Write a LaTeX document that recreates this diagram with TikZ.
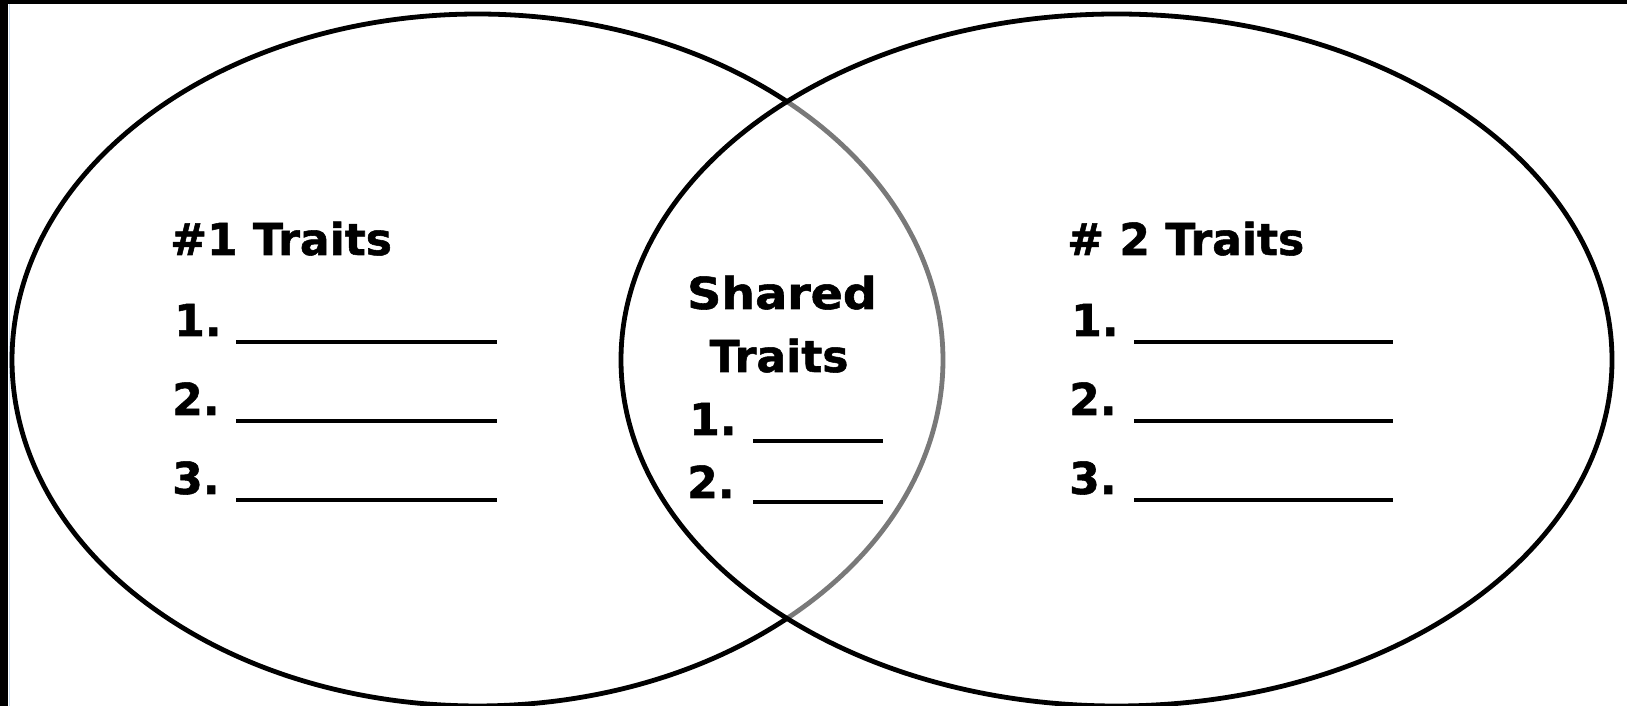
\documentclass[tikz,border=0pt]{standalone}
\usepackage{fontspec}
\setmainfont{DejaVu Sans}[BoldFeatures={FakeBold=1.2}]
\usetikzlibrary{calc}
\begin{document}
\begin{tikzpicture}[x=1pt,y=1pt,
  ring/.style={line width=4.8pt,draw=black},
  ringgray/.style={line width=4.8pt,draw=gray!95!black},
  lbl/.style={inner sep=0pt,anchor=base west,font=\fontsize{44}{52}\selectfont\bfseries},
  ctr/.style={inner sep=0pt,anchor=base,font=\fontsize{44}{52}\selectfont\bfseries},
  blank/.style={line width=4.5pt,draw=black}]
\useasboundingbox (0,0) rectangle (1627,706);
\fill[white] (0,0) rectangle (1627,706);
% frame bars
\fill[black] (0,0) rectangle (8,706);
\fill[black] (0,702) rectangle (1627,706);
\draw[color={rgb,255:red,200;green,220;blue,238},line width=1pt] (9,0) -- (9,702);
% ellipses
\coordinate (cL) at (477.5,346);
\coordinate (cR) at (1116.5,346);
\draw[ringgray] ($(cL)+(-48.3:465.5 and 346)$) arc[start angle=-48.3,end angle=48.3,x radius=465.5,y radius=346];
\draw[ring] ($(cL)+(48.3:465.5 and 346)$) arc[start angle=48.3,end angle=311.7,x radius=465.5,y radius=346];
\draw[ring] (cR) ellipse[x radius=495.5,y radius=346];
% left set
\node[lbl] (t1) at (170,451) {\#1 Traits};
\node[lbl] (a1) at (174,370) {1.};
\node[lbl] (a2) at (172,291) {2.};
\node[lbl] (a3) at (172,212) {3.};
\draw[blank] (236,364) -- (497,364);
\draw[blank] (236,285) -- (497,285);
\draw[blank] (236,206) -- (497,206);
% shared
\node[ctr,xscale=1.08] (s1) at (782,397) {Shared};
\node[ctr] (s2) at (779,334) {Traits};
\node[lbl] (b1) at (689,271) {1.};
\node[lbl] (b2) at (687,208) {2.};
\draw[blank] (753,265) -- (883,265);
\draw[blank] (753,204) -- (883,204);
% right set
\node[lbl] (t2) at (1067,451) {\# 2 Traits};
\node[lbl] (c1) at (1071,370) {1.};
\node[lbl] (c2) at (1069,291) {2.};
\node[lbl] (c3) at (1069,212) {3.};
\draw[blank] (1134,364) -- (1393,364);
\draw[blank] (1134,285) -- (1393,285);
\draw[blank] (1134,206) -- (1393,206);
\end{tikzpicture}
\end{document}
